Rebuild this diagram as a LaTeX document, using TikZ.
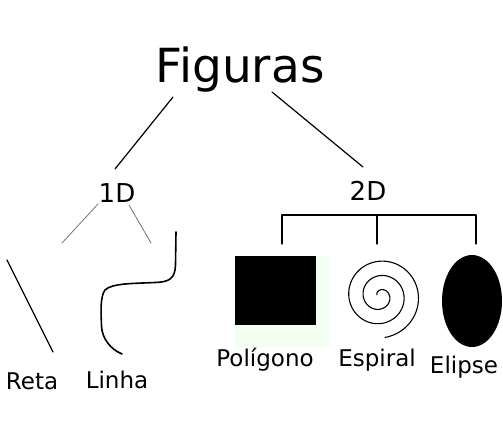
\documentclass[tikz,border=0pt]{standalone}
\usepackage{fontspec}
\setmainfont{DejaVu Sans}
\definecolor{palegreen}{RGB}{242,255,242}

\begin{document}
\begin{tikzpicture}[
    x=1pt,y=-1pt,
    line join=round,line cap=round,
    title/.style={inner sep=0pt,anchor=base,font=\fontsize{47}{52}\selectfont},
    level/.style={inner sep=0pt,anchor=base,font=\fontsize{26}{30}\selectfont},
    leaf/.style={inner sep=0pt,anchor=base,font=\fontsize{23}{27}\selectfont},
    branch/.style={draw=black,line width=1.2pt},
    twig/.style={draw=black!55,line width=0.8pt},
    stroke/.style={draw=black,line width=1.6pt},
    block/.style={rectangle,inner sep=0pt,anchor=north west}
  ]
  \useasboundingbox (0,0) rectangle (503,426);

  \node (figuras)  [title] at (240,82)  {Figuras};
  \node (um)       [level] at (117,202) {1D};
  \node (dois)     [level] at (368,200) {2D};

  \node (reta)     [leaf] at (32,389)  {Reta};
  \node (linha)    [leaf] at (117,388) {Linha};
  \node (poligono) [leaf] at (265,366) {Polígono};
  \node (espiral)  [leaf] at (377,366) {Espiral};
  \node (elipse)   [leaf] at (464,373) {Elipse};

  % free ends of the connectors
  \coordinate (fig-l)  at (173,97);
  \coordinate (fig-r)  at (272,92);
  \coordinate (um-in)  at (115,169);
  \coordinate (dois-in) at (363,167);
  \coordinate (um-l)   at (98,204);
  \coordinate (um-r)   at (129,205);
  \coordinate (reta-in)  at (62,243);
  \coordinate (linha-in) at (151,243);
  \coordinate (poli-in)  at (282,244);
  \coordinate (espi-in)  at (377,244);
  \coordinate (elip-in)  at (476,244);
  \coordinate (bar-l) at (282,215);
  \coordinate (bar-m) at (377,215);
  \coordinate (bar-r) at (476,215);

  \draw [branch] (fig-l) -- (um-in);
  \draw [branch] (fig-r) -- (dois-in);
  \draw [twig] (um-l) -- (reta-in);
  \draw [twig] (um-r) -- (linha-in);
  \draw [branch] (poli-in) -- (bar-l) -- (bar-r) -- (elip-in);
  \draw [branch] (bar-m) -- (espi-in);

  % 1D figures
  \draw [branch] (7,260) -- (53,352);
  \draw [stroke] (176,232) -- (175.5,265)
    .. controls (175,279) and (169,282) .. (155,282.5)
    .. controls (135,283.5) and (112,283) .. (105,290)
    .. controls (100,297) and (101,312) .. (101.5,326)
    .. controls (102,338) and (110,349) .. (122,354);

  % 2D figures
  \node (poli-bg) [block,fill=palegreen,minimum width=95pt,minimum height=91pt] at (235,256) {};
  \node (poli-sq) [block,fill=black,minimum width=81pt,minimum height=69pt] at (235,256) {};
  \draw [line width=1.1pt] plot [domain=200:1163,samples=300,variable=\t]
    ({380+(\t-120)*14.4/360*cos(\t)},{296+(\t-120)*14.4/360*sin(\t)});
  \fill (472,301) ellipse [x radius=30,y radius=46];
\end{tikzpicture}
\end{document}
